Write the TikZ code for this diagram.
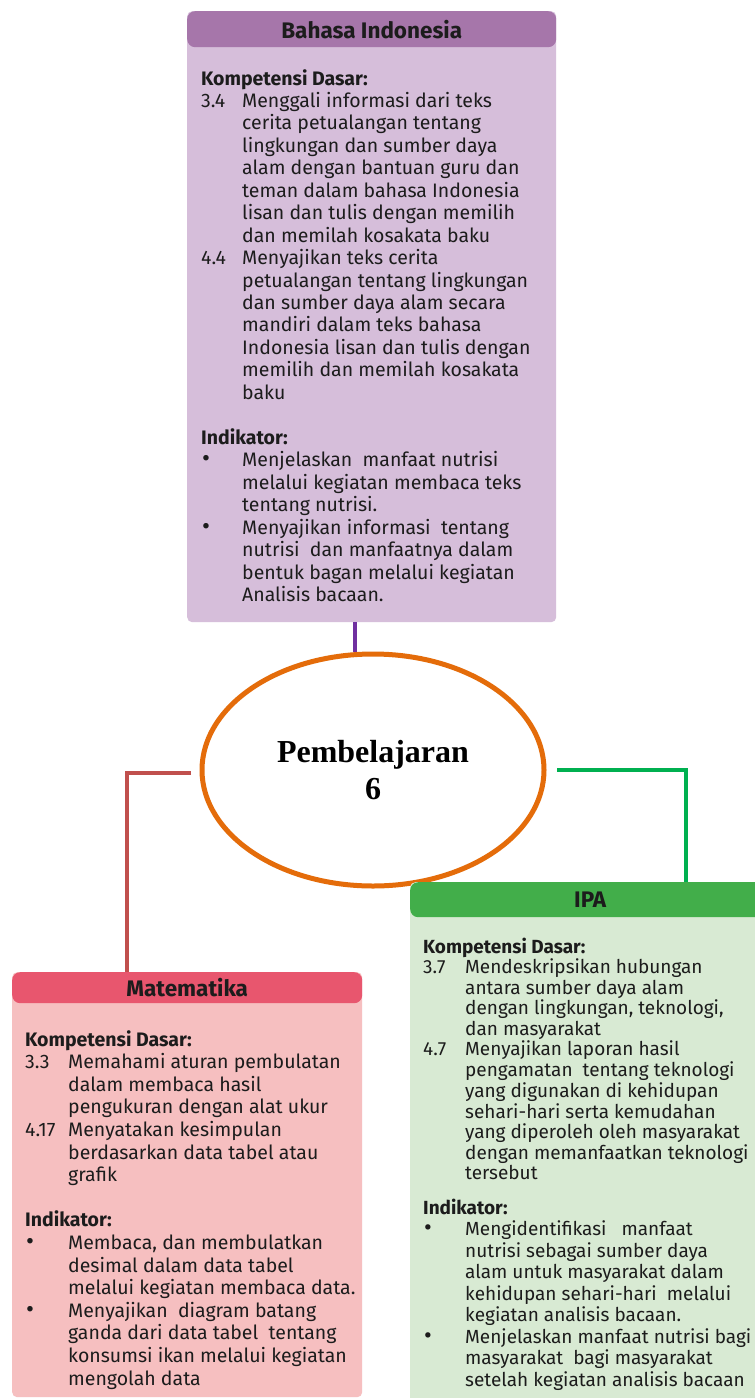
\documentclass[tikz,border=0pt]{standalone}
\usepackage{fontspec}
\setmainfont{Fira Sans}
\newfontfamily\hubserif{Liberation Serif}
\usetikzlibrary{shapes.geometric}

\definecolor{biheadfill}{HTML}{A676AA}
\definecolor{bibodyfill}{HTML}{D6BEDA}
\definecolor{matheadfill}{HTML}{E8566E}
\definecolor{matbodyfill}{HTML}{F6BFC0}
\definecolor{ipaheadfill}{HTML}{42AE4A}
\definecolor{ipabodyfill}{HTML}{D8EAD3}
\definecolor{linkpurple}{HTML}{7030A0}
\definecolor{linkred}{HTML}{C0504D}
\definecolor{linkgreen}{HTML}{00B050}
\definecolor{ringorange}{HTML}{E46C0A}
\definecolor{ink}{HTML}{1C1C1C}

% row helpers for the competency tables
\newcommand{\kdhead}{\multicolumn{2}{@{}l@{}}{\bfseries Kompetensi Dasar:}}
\newcommand{\indhead}{\multicolumn{2}{@{}l@{}}{\bfseries Indikator:}}
\newcommand{\listdot}{\hspace{1pt}\smash{\scalebox{1.25}{•}}}

\tikzset{
  bodybox/.style={rounded corners=5pt, inner sep=0pt, anchor=north west},
  headbox/.style={rounded corners=8pt, inner sep=0pt, anchor=north west,
    text=ink, font=\fontsize{22.5}{24}\selectfont\bfseries},
  kdtext/.style={anchor=base west, inner sep=0pt, text=ink,
    font=\fontsize{19.5}{22.45}\selectfont},
  link/.style={line width=4.5pt},
}

\begin{document}
\begin{tikzpicture}[x=1pt, y=-1pt]
\clip (0,0) rectangle (755,1398);
\fill[white] (0,0) rectangle (755,1398);

% ---- Bahasa Indonesia ----
\node[bodybox, fill=bibodyfill, minimum width=369pt, minimum height=611pt] (bibox) at (187,11) {};
\node[headbox, fill=biheadfill, minimum width=369pt, minimum height=36pt] (bihead) at (187,11) {Bahasa Indonesia};
\node[kdtext] (bitext) at (201,85) {\begin{tabular}[t]{@{}p{41pt}@{}l@{}}
\kdhead\\
3.4 & Menggali informasi dari teks\\
    & cerita petualangan tentang\\
    & lingkungan dan sumber daya\\
    & alam dengan bantuan guru dan\\
    & teman dalam bahasa Indonesia\\
    & lisan dan tulis dengan memilih\\
    & dan memilah kosakata baku\\
4.4 & Menyajikan teks cerita\\
    & petualangan tentang lingkungan\\
    & dan sumber daya alam secara\\
    & mandiri dalam teks bahasa\\
    & Indonesia lisan dan tulis dengan\\
    & memilih dan memilah kosakata\\
    & baku\\
    & \\
\indhead\\
\listdot & Menjelaskan\ \ manfaat nutrisi\\
    & melalui kegiatan membaca teks\\
    & tentang nutrisi.\\
\listdot & Menyajikan informasi\ \ tentang\\
    & nutrisi\ \ dan manfaatnya dalam\\
    & bentuk bagan melalui kegiatan\\
    & Analisis bacaan.
\end{tabular}};

% ---- Matematika ----
\node[bodybox, fill=matbodyfill, minimum width=350pt, minimum height=425pt] (matbox) at (12,972) {};
\node[headbox, fill=matheadfill, minimum width=350pt, minimum height=31pt] (mathead) at (12,972) {Matematika};
\node[kdtext] (mattext) at (25,1046) {\fontsize{19.5}{22.6}\selectfont\begin{tabular}[t]{@{}p{43pt}@{}l@{}}
\kdhead\\
3.3  & Memahami aturan pembulatan\\
     & dalam membaca hasil\\
     & pengukuran dengan alat ukur\\
4.17 & Menyatakan kesimpulan\\
     & berdasarkan data tabel atau\\
     & grafik\\
     & \\
\indhead\\
\listdot & Membaca, dan membulatkan\\
     & desimal dalam data tabel\\
     & melalui kegiatan membaca data.\\
\listdot & Menyajikan\ \ diagram batang\\
     & ganda dari data tabel\ \ tentang\\
     & konsumsi ikan melalui kegiatan\\
     & mengolah data
\end{tabular}};

% ---- central ring ----
\node[ellipse, draw=ringorange, line width=5pt, fill=white, inner sep=0pt,
  minimum width=342pt, minimum height=232pt, align=center,
  font=\hubserif\bfseries\fontsize{32}{37}\selectfont] (hub) at (373,770) {Pembelajaran\\6};

% ---- IPA ----
\node[bodybox, fill=ipabodyfill, minimum width=360pt, minimum height=530pt] (ipabox) at (410,882) {};
\node[headbox, fill=ipaheadfill, minimum width=360pt, minimum height=35pt] (ipahead) at (410,882) {IPA};
\node[kdtext] (ipakd) at (423,953) {\fontsize{19}{19.9}\selectfont\begin{tabular}[t]{@{}p{42pt}@{}l@{}}
\kdhead\\
3.7 & Mendeskripsikan hubungan\\
    & antara sumber daya alam\\
    & dengan lingkungan, teknologi,\\
    & dan masyarakat\\
4.7 & Menyajikan laporan hasil\\
    & pengamatan\ \ tentang teknologi\\
    & yang digunakan di kehidupan\\
    & sehari-hari serta kemudahan\\
    & yang diperoleh oleh masyarakat\\
    & dengan memanfaatkan teknologi\\
    & tersebut
\end{tabular}};
\node[kdtext] (ipaind) at (423,1214) {\fontsize{19}{21.5}\selectfont\begin{tabular}[t]{@{}p{42pt}@{}l@{}}
\indhead\\
\listdot & Mengidentifikasi\ \ \ manfaat\\
    & nutrisi sebagai sumber daya\\
    & alam untuk masyarakat dalam\\
    & kehidupan sehari-hari\ \ melalui\\
    & kegiatan analisis bacaan.\\
\listdot & Menjelaskan manfaat nutrisi bagi\\
    & masyarakat\ \ bagi masyarakat\\
    & setelah kegiatan analisis bacaan
\end{tabular}};

% ---- connectors ----
\coordinate (purplex) at (355,0);
\draw[link, linkpurple] (bibox.south -| purplex) -- (hub.north -| purplex);
\coordinate (redtip) at (191,773);
\coordinate (redbend) at (127,773);
\draw[link, linkred] (redtip) -- (redbend) -- (redbend |- mathead.north);
\coordinate (greentip) at (557,770);
\coordinate (greenbend) at (686,770);
\draw[link, linkgreen] (greentip) -- (greenbend) -- (greenbend |- ipahead.north);
\end{tikzpicture}
\end{document}
